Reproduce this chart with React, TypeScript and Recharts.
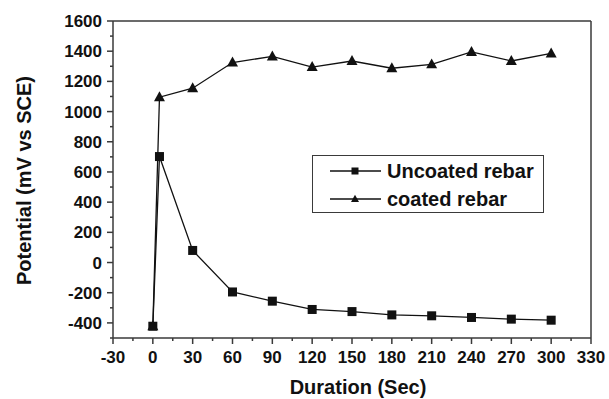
import { Label, Legend, Line, LineChart, XAxis, YAxis } from "recharts";

const durations = [0, 5, 30, 60, 90, 120, 150, 180, 210, 240, 270, 300];
const uncoated = [-422, 702, 80, -195, -256, -311, -325, -347, -353, -364, -375, -382];
const coated = [-422, 1095, 1155, 1325, 1365, 1295, 1335, 1287, 1313, 1395, 1335, 1385];

const xTicks = [-30, -15, 0, 15, 30, 45, 60, 75, 90, 105, 120, 135, 150, 165, 180, 195, 210, 225, 240, 255, 270, 285, 300, 315, 330];
const yTicks = [-500, -400, -300, -200, -100, 0, 100, 200, 300, 400, 500, 600, 700, 800, 900, 1000, 1100, 1200, 1300, 1400, 1500, 1600];

const data = durations.map((d, i) => ({ d, uncoated: uncoated[i], coated: coated[i] }));

const FONT = "'Liberation Sans', Arial, sans-serif";
const AXIS = "#3a3a3a";
const INK = "#111";

// one tick set every 15 / 100 units: labelled major ticks, short unlabelled minor ones
const XTick = (props: any) => {
  const { x, y, payload } = props;
  const major = payload.value % 30 === 0;
  return (
    <g>
      <line x1={x} y1={y} x2={x} y2={y + (major ? 6 : 3)} stroke={AXIS} strokeWidth={1.5} />
      {major && (
        <text x={x} y={y + 25} textAnchor="middle" fontFamily={FONT} fontWeight="bold" fontSize={17} fill={INK}>
          {payload.value}
        </text>
      )}
    </g>
  );
};

const YTick = (props: any) => {
  const { x, y, payload } = props;
  const major = payload.value % 200 === 0;
  return (
    <g>
      <line x1={x} y1={y} x2={x - (major ? 6 : 3)} y2={y} stroke={AXIS} strokeWidth={1.5} />
      {major && (
        <text x={x - 11} y={y + 6} textAnchor="end" fontFamily={FONT} fontWeight="bold" fontSize={17} fill={INK}>
          {payload.value}
        </text>
      )}
    </g>
  );
};

const Square = (props: any) => {
  const { cx, cy, size = 9 } = props;
  if (cx == null || cy == null) return null;
  return <rect x={cx - size / 2} y={cy - size / 2} width={size} height={size} fill={INK} />;
};

const Triangle = (props: any) => {
  const { cx, cy, size = 11 } = props;
  if (cx == null || cy == null) return null;
  const h = size * 0.9;
  return <path d={`M${cx},${cy - h * 0.6} L${cx + size / 2},${cy + h * 0.4} L${cx - size / 2},${cy + h * 0.4} Z`} fill={INK} />;
};

const LegendBox = () => {
  const rows = [
    { name: "Uncoated rebar", shape: "square" },
    { name: "coated rebar", shape: "triangle" },
  ];
  return (
    <div
      style={{
        width: 230,
        height: 56,
        border: `1.5px solid ${AXIS}`,
        background: "#fff",
        boxSizing: "content-box",
        fontFamily: FONT,
        fontWeight: "bold",
        fontSize: 20,
        color: INK,
      }}
    >
      {rows.map((r, i) => (
        <div key={r.name} style={{ display: "flex", alignItems: "center", height: 28, marginTop: i === 0 ? 1 : 0 }}>
          <svg width={74} height={20} style={{ flex: "none" }}>
            <line x1={17} y1={10} x2={68} y2={10} stroke={INK} strokeWidth={1.3} />
            {r.shape === "square" ? <Square cx={42} cy={10} size={7} /> : <Triangle cx={42} cy={10} size={8} />}
          </svg>
          <span style={{ lineHeight: "20px" }}>{r.name}</span>
        </div>
      ))}
    </div>
  );
};

export default function App() {
  return (
    <div style={{ position: "absolute", left: 0, top: 0, width: 609, height: 399, background: "#fff" }}>
      <LineChart width={609} height={399} data={data} margin={{ top: 20, right: 17, bottom: 60, left: 112 }}>
        <XAxis
          dataKey="d"
          type="number"
          domain={[-30, 330]}
          ticks={xTicks}
          interval={0}
          height={1}
          tickSize={0}
          tickMargin={0}
          tick={<XTick />}
          axisLine={{ stroke: AXIS, strokeWidth: 1.5 }}
          tickLine={false}
        >
          <Label
            content={(p: any) => {
              const vb = p.viewBox;
              return (
                <text x={vb.x + vb.width / 2 + 6} y={vb.y + 56} textAnchor="middle" fontFamily={FONT} fontWeight="bold" fontSize={20} fill={INK}>
                  Duration (Sec)
                </text>
              );
            }}
          />
        </XAxis>
        <XAxis xAxisId="top" orientation="top" type="number" domain={[-30, 330]} height={1} tick={false} tickLine={false} axisLine={{ stroke: AXIS, strokeWidth: 1.5 }} />
        <YAxis
          type="number"
          domain={[-500, 1600]}
          ticks={yTicks}
          interval={0}
          width={1}
          tickSize={0}
          tickMargin={0}
          tick={<YTick />}
          axisLine={{ stroke: AXIS, strokeWidth: 1.5 }}
          tickLine={false}
        >
          <Label
            content={(p: any) => {
              const vb = p.viewBox;
              const cx = vb.x - 88;
              const cy = vb.y + vb.height / 2 + 1;
              return (
                <text x={cx} y={cy} transform={`rotate(-90 ${cx} ${cy})`} dy={7} textAnchor="middle" fontFamily={FONT} fontWeight="bold" fontSize={20} fill={INK}>
                  Potential (mV vs SCE)
                </text>
              );
            }}
          />
        </YAxis>
        <YAxis yAxisId="right" orientation="right" type="number" domain={[-500, 1600]} width={1} tick={false} tickLine={false} axisLine={{ stroke: AXIS, strokeWidth: 1.5 }} />
        <Legend
          layout="vertical"
          align="center"
          verticalAlign="middle"
          content={<LegendBox />}
          wrapperStyle={{ position: "absolute", left: 312, top: 155, width: "auto" }}
        />
        <Line
          dataKey="uncoated"
          name="Uncoated rebar"
          stroke={INK}
          strokeWidth={1.3}
          dot={<Square size={9} />}
          activeDot={false}
          isAnimationActive={false}
        />
        <Line
          dataKey="coated"
          name="coated rebar"
          stroke={INK}
          strokeWidth={1.3}
          dot={<Triangle size={11} />}
          activeDot={false}
          isAnimationActive={false}
        />
      </LineChart>
    </div>
  );
}
